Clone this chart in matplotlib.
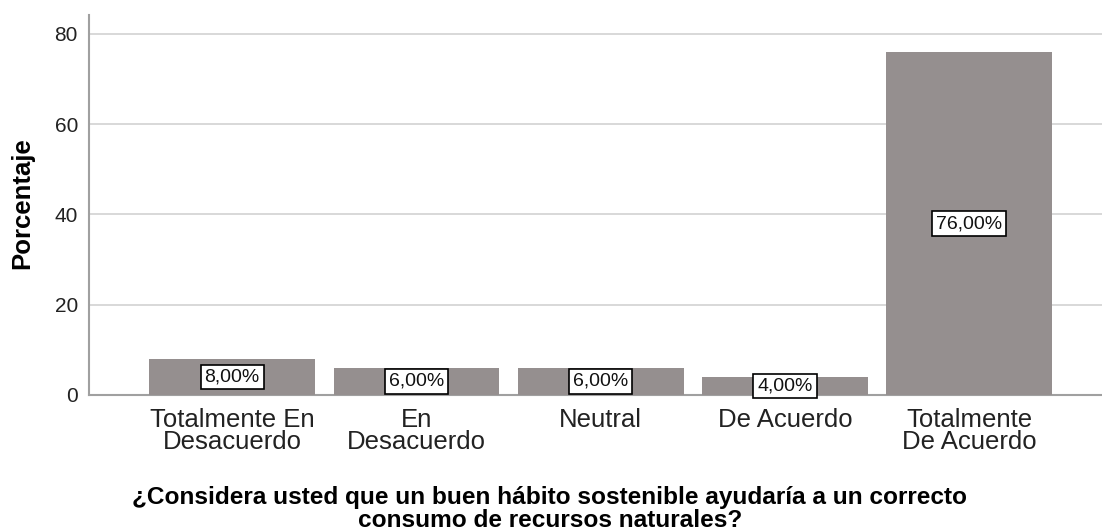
import matplotlib.pyplot as plt

categorias = ["Totalmente En\nDesacuerdo", "En\nDesacuerdo", "Neutral", "De Acuerdo", "Totalmente\nDe Acuerdo"]
porcentajes = [8, 6, 6, 4, 76]
etiquetas = ["8,00%", "6,00%", "6,00%", "4,00%", "76,00%"]

plt.rcParams['font.family'] = ['Liberation Sans', 'DejaVu Sans']

fig = plt.figure(figsize=(11.02, 5.31), dpi=100)
ax = fig.add_axes([89/1102, 1 - 395/531, 1 - 89/1102, (395 - 15)/531])

x = range(len(categorias))
bars = ax.bar(x, porcentajes, width=0.9, color="#958f8f", zorder=3)

for b, txt in zip(bars, etiquetas):
    ax.text(b.get_x() + b.get_width()/2, b.get_height()/2, txt,
            ha="center", va="center", fontsize=14, zorder=4, color="#111111",
            bbox=dict(boxstyle="square,pad=0.2", fc="white", ec="black", lw=1.2))

ax.set_xlim(-0.777, 4.72)
ax.set_ylim(0, 84.2)
ax.set_yticks([0, 20, 40, 60, 80])
ax.set_xticks(list(x))
ax.set_xticklabels(categorias, fontsize=18.5, color="#222222", linespacing=0.88)
ax.tick_params(axis="x", length=0, pad=9.5)
ax.tick_params(axis="y", length=0, labelsize=15, pad=8, labelcolor="#222222")
ax.yaxis.grid(True, color="#d6d6d6", lw=1.3, zorder=0)

for s in ["top", "right"]:
    ax.spines[s].set_visible(False)
ax.spines["left"].set_color("#a0a0a0")
ax.spines["bottom"].set_color("#a0a0a0")
ax.spines["left"].set_linewidth(1.5)
ax.spines["bottom"].set_linewidth(1.5)

# eje y: etiqueta
fig.text(22/1102, 1 - 203.5/531, "Porcentaje",
         rotation=90, ha="center", va="center", fontsize=18.5, fontweight="bold")

# titulo del eje x (dos lineas)
fig.text(550/1102, 1 - 527/531,
         "¿Considera usted que un buen hábito sostenible ayudaría a un correcto\nconsumo de recursos naturales?",
         ha="center", va="baseline", fontsize=17.6, fontweight="bold", linespacing=1.0)

fig.savefig("out.png", dpi=100)
